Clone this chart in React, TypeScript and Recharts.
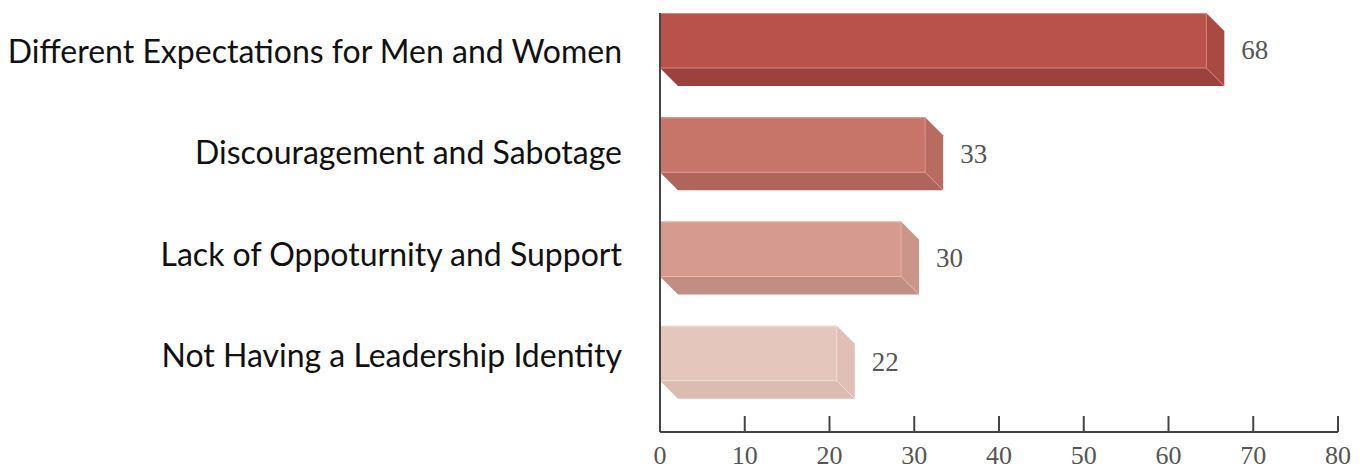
import { BarChart, Bar, XAxis, YAxis, LabelList } from "recharts";

const categories = [
  "Different Expectations for Men and Women",
  "Discouragement and Sabotage",
  "Lack of Oppoturnity and Support",
  "Not Having a Leadership Identity",
];
const values = [68, 33, 30, 22];
const xTicks = [0, 10, 20, 30, 40, 50, 60, 70, 80];

// front / side / bottom shades per bar
const palette = [
  { front: "#B9524A", side: "#A84A42", bottom: "#9B423C", edge: "#D48A82" },
  { front: "#C87569", side: "#B96B60", bottom: "#B0655B", edge: "#DB9A90" },
  { front: "#D69A8E", side: "#CC9589", bottom: "#C28D82", edge: "#E6B8AE" },
  { front: "#E4C6BC", side: "#E0C0B6", bottom: "#DBBCB2", edge: "#F0DCD5" },
];

const DEPTH = 18;
const FRONT_RATIO = 0.948;
const AXIS = "#454545";
const NUM_FONT = "'Liberation Serif', serif";

const data = categories.map((name, i) => ({ name, value: values[i], idx: i }));

function Box3D(props: any) {
  const { x, y, width, height } = props;
  const i = props.payload?.idx ?? props.index ?? 0;
  const c = palette[i];
  const fw = width * FRONT_RATIO;
  const fh = height - DEPTH;
  const xr = x + fw;
  return (
    <g>
      <polygon
        points={`${x},${y + fh} ${xr},${y + fh} ${xr + DEPTH},${y + height} ${x + DEPTH},${y + height}`}
        fill={c.bottom}
      />
      <polygon
        points={`${xr},${y} ${xr + DEPTH},${y + DEPTH} ${xr + DEPTH},${y + height} ${xr},${y + fh}`}
        fill={c.side}
      />
      <rect x={x} y={y} width={fw} height={fh} fill={c.front} />
      <line x1={x} y1={y + 0.5} x2={xr} y2={y + 0.5} stroke={c.edge} strokeWidth={1} />
      <line x1={x} y1={y + fh} x2={xr} y2={y + fh} stroke={c.edge} strokeWidth={1} />
      <line x1={xr} y1={y} x2={xr} y2={y + fh} stroke={c.edge} strokeWidth={0.8} />
      <line x1={xr} y1={y + fh} x2={xr + DEPTH} y2={y + height} stroke={c.edge} strokeWidth={0.8} />
    </g>
  );
}

function ValueLabel(props: any) {
  const { x, y, width, height, value } = props;
  const right = x + width * FRONT_RATIO + DEPTH;
  return (
    <text
      x={right + 17}
      y={y + height / 2}
      dy={3}
      fill="#555"
      fontFamily={NUM_FONT}
      fontSize={27}
      textAnchor="start"
      dominantBaseline="middle"
    >
      {value}
    </text>
  );
}

function XTick(props: any) {
  const { x, y, payload } = props;
  return (
    <g>
      <line x1={x} y1={y - 16} x2={x} y2={y} stroke={AXIS} strokeWidth={2} />
      <text
        x={x}
        y={y + 32}
        fill="#555"
        fontFamily={NUM_FONT}
        fontSize={26}
        textAnchor="middle"
      >
        {payload.value}
      </text>
    </g>
  );
}

function YTick(props: any) {
  const { y, payload, index } = props;
  // labels sit on a slightly tighter pitch than the bars
  const dy = 6 - (index ?? 0) * 3;
  return (
    <text
      x={622}
      y={y}
      dy={dy}
      fill="#111"
      fontFamily="Lato, sans-serif"
      fontSize={32}
      textAnchor="end"
      dominantBaseline="middle"
    >
      {payload.value}
    </text>
  );
}

export default function App() {
  return (
    <div style={{ position: "absolute", left: 0, top: 0, background: "#fff" }}>
      <BarChart
        width={1367}
        height={470}
        data={data}
        layout="vertical"
        margin={{ top: 13, right: 29, left: 0, bottom: 0 }}
      >
        <XAxis
          type="number"
          domain={[0, 80]}
          ticks={xTicks}
          height={38}
          axisLine={{ stroke: AXIS, strokeWidth: 2 }}
          tickLine={false}
          tickSize={0}
          tickMargin={0}
          tick={<XTick />}
          interval={0}
        />
        <YAxis
          type="category"
          dataKey="name"
          width={660}
          padding={{ top: -16, bottom: 18 }}
          axisLine={{ stroke: AXIS, strokeWidth: 2 }}
          tickLine={false}
          tickSize={0}
          tick={<YTick />}
          interval={0}
        />
        <Bar dataKey="value" barSize={73} shape={<Box3D />} isAnimationActive={false}>
          <LabelList dataKey="value" content={<ValueLabel />} />
        </Bar>
      </BarChart>
    </div>
  );
}
